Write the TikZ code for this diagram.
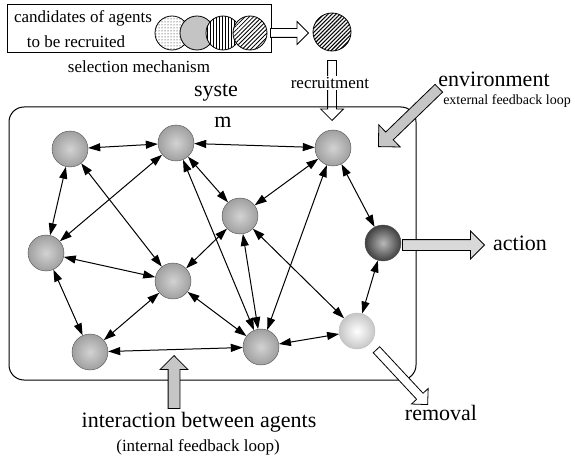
\documentclass[tikz,border=0pt]{standalone}
\usepackage{fontspec}
\setmainfont{Liberation Serif}
\usetikzlibrary{arrows.meta,shapes.arrows,patterns.meta}

\tikzset{
  agent/.style={circle,draw=gray!60!black,thin,minimum size=36pt,inner sep=0pt,
    inner color=gray!35,outer color=gray!75},
  link/.style={arrows={Triangle[length=12pt,width=8pt]-Triangle[length=12pt,width=8pt]},line width=1pt},
  bigarrow/.style={single arrow,draw,line width=0.8pt,inner sep=4pt,
    single arrow head extend=7pt,minimum height=#1,anchor=tip},
  cand/.style={circle,draw,line width=0.8pt,minimum size=34pt,inner sep=0pt,preaction={fill=white}},
  big/.style={font=\fontsize{22}{26}\selectfont},
  mid/.style={font=\fontsize{17}{20}\selectfont},
  small/.style={font=\fontsize{14}{17}\selectfont}
}

\begin{document}
\begin{tikzpicture}[x=1pt,y=-1pt]
        \useasboundingbox (0,0) rectangle (575,457);

        % candidates
        \node[draw,line width=1pt,minimum width=264pt,minimum height=48pt] (pool) at (139,29) {};
        \node[mid] (cand1) at (83,18) {candidates of agents};
        \node[mid] (cand2) at (76,42) {to be recruited};
        \node[cand,pattern={Dots[distance=3pt,radius=0.5pt]}] (c1) at (172,33) {};
        \node[cand,pattern={Dots[distance=2pt,radius=0.65pt]}] (c2) at (197,33) {};
        \node[cand,pattern={Lines[angle=90,distance=3pt,line width=0.8pt]}] (c3) at (223,33) {};
        \node[cand,pattern={Lines[angle=45,distance=3pt,line width=0.8pt]}] (c4) at (250,33) {};
        \node[mid] (sel) at (139,67) {selection mechanism};

        \node[bigarrow=38pt,fill=white] (selarrow) at (309,33) {};
        \node[circle,draw,line width=0.8pt,minimum size=38pt,inner sep=0pt,
          pattern={Lines[angle=45,distance=2.8pt,line width=1.1pt]}] (new) at (332,32) {};

        \node[bigarrow=60pt,fill=white,rotate=-90] (recarrow) at (332,121) {};
        \node[mid,fill=white,inner sep=1pt] (rec) at (330,83) {recruitment};

        % system
        \draw[line width=1pt,rounded corners=15pt] (9,107) rectangle (416,380);
        \node[big,fill=white,inner sep=1pt] (sys1) at (216,93) {syste};
        \node[big] (sys2) at (223,122) {m};

        % agents
        \node[agent] (a) at (70,149) {};
        \node[agent] (b) at (176,143) {};
        \node[agent] (c) at (333,148) {};
        \node[agent] (d) at (240,216) {};
        \node[agent] (e) at (46,253) {};
        \node[agent] (f) at (173,281) {};
        \node[agent,inner color=gray!55,outer color=black!75] (g) at (383,243) {};
        \node[agent] (h) at (90,352) {};
        \node[agent] (i) at (261,347) {};
        \node[agent,draw=gray!50,inner color=white,outer color=gray!45] (j) at (357,331) {};

        \draw[link] (a) -- (b);
        \draw[link] (b) -- (c);
        \draw[link] (a) -- (e);
        \draw[link] (a) -- (f);
        \draw[link] (b) -- (e);
        \draw[link] (b) -- (d);
        \draw[link] (b) -- (i);
        \draw[link] (c) -- (d);
        \draw[link] (c) -- (i);
        \draw[link] (c) -- (g);
        \draw[link] (d) -- (f);
        \draw[link] (d) -- (i);
        \draw[link] (d) -- (j);
        \draw[link] (e) -- (f);
        \draw[link] (e) -- (h);
        \draw[link] (f) -- (h);
        \draw[link] (f) -- (i);
        \draw[link] (h) -- (i);
        \draw[link] (i) -- (j);
        \draw[link] (g) -- (j);

        % environment and outputs
        \node[bigarrow=84pt,fill=gray!45,inner sep=5pt,single arrow head extend=10pt,rotate=-136] (envarrow) at (378,147) {};
        \node[big] (env) at (494,79) {environment};
        \node[small] (ext) at (507,101) {external feedback loop};

        \node[bigarrow=82pt,fill=gray!30,inner sep=5pt,single arrow head extend=8.5pt] (actarrow) at (485,245) {};
        \node[big] (act) at (520,243) {action};

        \node[bigarrow=75pt,fill=white,rotate=-47] (remarrow) at (428,405) {};
        \node[big] (rem) at (441,413) {removal};

        \node[bigarrow=53pt,fill=gray!45,inner sep=5.5pt,single arrow head extend=8pt,rotate=90] (intarrow) at (174,355) {};
        \node[big] (inter) at (199,422) {interaction between agents};
        \node[mid] (intl) at (198,447) {(internal feedback loop)};

      \end{tikzpicture}
\end{document}
